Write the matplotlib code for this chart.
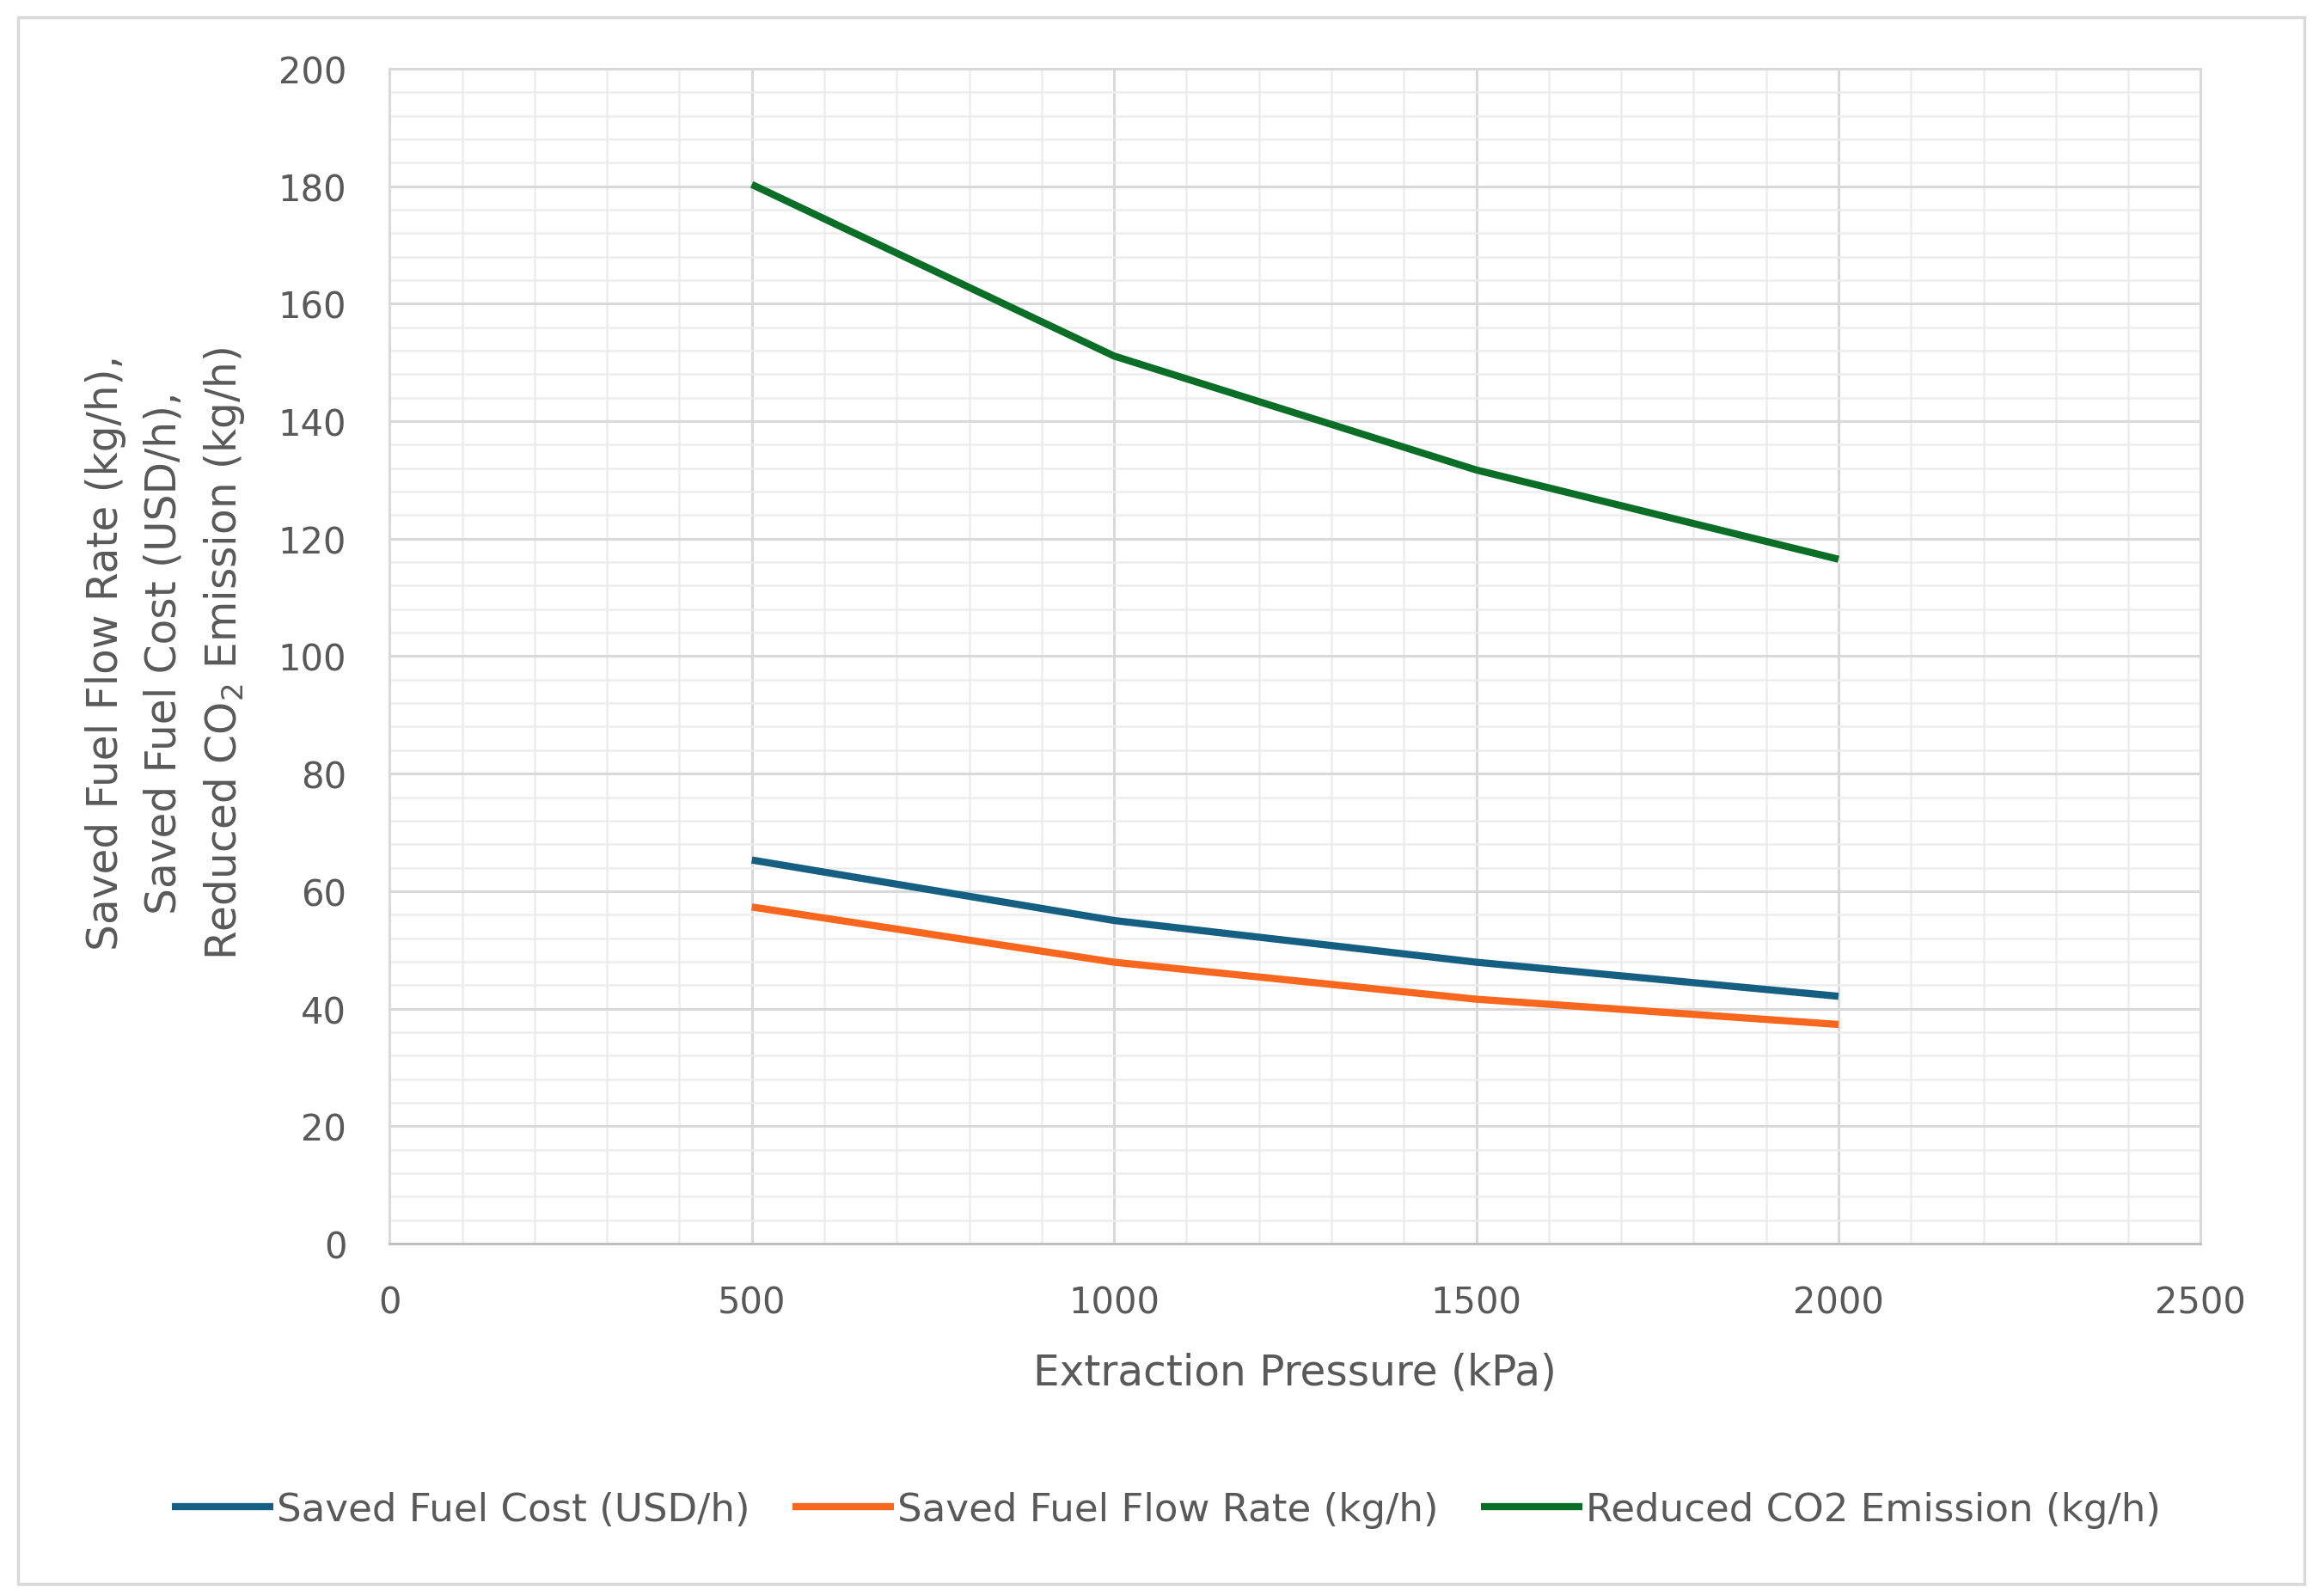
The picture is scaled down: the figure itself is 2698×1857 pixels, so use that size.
'''
extraction pressure vs saved fuel / cost / CO2
'''

import matplotlib
matplotlib.use('Agg')
import matplotlib.pyplot as plt
from matplotlib.ticker import MultipleLocator
from matplotlib.patches import Rectangle

pressure = [500, 1000, 1500, 2000]
fuel_cost = [65.3, 55.0, 47.9, 42.1]        # USD/h
fuel_flow = [57.3, 47.9, 41.6, 37.3]        # kg/h
co2_reduced = [180.3, 151.1, 131.7, 116.5]  # kg/h

series_names = ['Saved Fuel Cost (USD/h)', 'Saved Fuel Flow Rate (kg/h)', 'Reduced CO2 Emission (kg/h)']
colors = ['#145F82', '#F9661E', '#0B6E27']

txt = '#595959'
plt.rcParams['font.family'] = ['DejaVu Sans']

fig = plt.figure(figsize=(26.98, 18.58), dpi=100)
ax = fig.add_axes([0.168, 0.2207, 0.781, 0.7357])

for y, c, name in zip([fuel_cost, fuel_flow, co2_reduced], colors, series_names):
    ax.plot(pressure, y, color=c, lw=6, label=name, solid_capstyle='butt')

ax.set_xlim(0, 2500)
ax.set_ylim(0, 200)
ax.xaxis.set_major_locator(MultipleLocator(500))
ax.xaxis.set_minor_locator(MultipleLocator(100))
ax.yaxis.set_major_locator(MultipleLocator(20))
ax.yaxis.set_minor_locator(MultipleLocator(4))
ax.grid(which='major', color='#D9D9D9', lw=2.2)
ax.grid(which='minor', color='#EDEDED', lw=1.8)
ax.set_axisbelow(True)
ax.tick_params(which='both', length=0, labelsize=30, colors=txt)
ax.tick_params(axis='y', pad=36)
ax.tick_params(axis='x', pad=34)

for s in ax.spines.values():
    s.set_color('#D9D9D9')
    s.set_linewidth(2.2)
ax.spines['bottom'].set_color('#BFBFBF')

ax.set_xlabel('Extraction Pressure (kPa)', fontsize=35, color=txt, labelpad=26)
fig.text(0.0716, 0.591, 'Saved Fuel Flow Rate (kg/h),\nSaved Fuel Cost (USD/h),\nReduced CO$_2$ Emission (kg/h)',
         rotation=90, ha='center', va='center', multialignment='center',
         fontsize=35, color=txt, linespacing=1.52)

leg = fig.legend(loc='center', bbox_to_anchor=(0.503, 0.054), ncol=3, frameon=False,
                 fontsize=32.5, handlelength=2.6, handletextpad=0.1, columnspacing=1.1)
for t in leg.get_texts():
    t.set_color(txt)

# outer chart border
fig.patches.append(Rectangle((0.0077, 0.0075), 0.9860, 0.981, transform=fig.transFigure,
                             fill=False, edgecolor='#D9D9D9', lw=2.5))

plt.savefig('out.png', dpi=100)
